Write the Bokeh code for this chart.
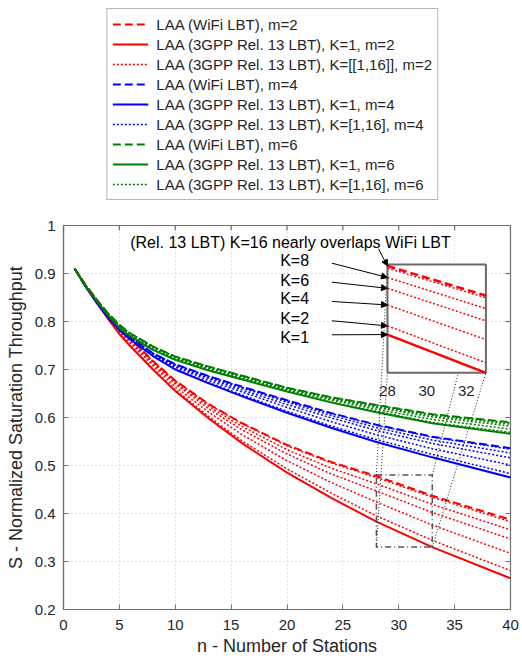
import math
from bokeh.plotting import figure
from bokeh.layouts import column
from bokeh.models import (Range1d, Legend, LegendItem, Arrow, NormalHead,
                          FixedTicker, Label)
from bokeh.embed import file_html
from bokeh.resources import INLINE
from bokeh.core.properties import value

# ---------------- data ----------------
n_stations = [1, 2, 3, 4, 5, 6, 8, 10, 13, 16, 20, 24, 28, 33, 40]

# m = 2 (red)
wifi_m2 = [.910, .876, .845, .816, .789, .764, .718, .677, .628, .588, .543, .507, .478, .437, .387]
k1_m2 = [.910, .872, .838, .805, .774, .748, .700, .655, .598, .546, .485, .432, .383, .330, .265]
k2_m2 = [.910, .873, .839, .806, .776, .750, .702, .658, .602, .551, .493, .442, .395, .344, .281]
k4_m2 = [.910, .874, .841, .810, .780, .755, .708, .664, .611, .564, .510, .464, .424, .376, .317]
k6_m2 = [.910, .875, .843, .812, .784, .759, .712, .670, .618, .574, .524, .482, .447, .402, .347]
k8_m2 = [.910, .875, .844, .814, .786, .761, .715, .673, .623, .581, .533, .494, .462, .419, .366]
k16_m2 = [.910, .876, .845, .816, .789, .764, .717, .676, .627, .587, .541, .505, .475, .434, .383]

# m = 4 (blue)
wifi_m4 = [.910, .873, .840, .812, .788, .767, .734, .711, .686, .664, .636, .609, .585, .560, .536]
k1_m4 = [.910, .872, .838, .808, .782, .762, .728, .700, .671, .644, .610, .578, .549, .517, .475]
k2_m4 = [.910, .872, .838, .809, .783, .763, .729, .701, .673, .647, .613, .582, .554, .523, .483]
k4_m4 = [.910, .872, .839, .810, .785, .764, .731, .705, .677, .653, .621, .591, .564, .535, .501]
k6_m4 = [.910, .873, .839, .811, .786, .765, .732, .707, .681, .657, .627, .599, .573, .546, .516]
k8_m4 = [.910, .873, .840, .811, .787, .766, .733, .709, .683, .661, .632, .604, .579, .553, .526]
k16_m4 = [.910, .873, .840, .812, .788, .767, .734, .711, .686, .663, .635, .608, .584, .559, .534]

# m = 6 (green)
wifi_m6 = [.910, .874, .844, .817, .793, .775, .748, .727, .706, .687, .662, .642, .626, .607, .590]
k1_m6 = [.910, .873, .842, .813, .787, .769, .741, .720, .698, .679, .654, .631, .611, .588, .566]
k2_m6 = [.910, .873, .842, .814, .788, .770, .742, .721, .699, .680, .655, .632, .613, .590, .569]
k4_m6 = [.910, .873, .843, .815, .790, .772, .744, .723, .701, .682, .657, .636, .617, .596, .576]
k6_m6 = [.910, .874, .843, .816, .791, .773, .746, .725, .703, .684, .659, .638, .621, .601, .582]
k8_m6 = [.910, .874, .844, .816, .792, .774, .747, .726, .705, .686, .661, .640, .623, .604, .586]
k16_m6 = [.910, .874, .844, .817, .793, .775, .748, .727, .706, .687, .662, .642, .626, .606, .589]

legend_labels = [
    "LAA (WiFi LBT), m=2",
    "LAA (3GPP Rel. 13 LBT), K=1, m=2",
    "LAA (3GPP Rel. 13 LBT), K=[[1,16]], m=2",
    "LAA (WiFi LBT), m=4",
    "LAA (3GPP Rel. 13 LBT), K=1, m=4",
    "LAA (3GPP Rel. 13 LBT), K=[1,16], m=4",
    "LAA (WiFi LBT), m=6",
    "LAA (3GPP Rel. 13 LBT), K=1, m=6",
    "LAA (3GPP Rel. 13 LBT), K=[1,16], m=6",
]

x_ticks = [0, 5, 10, 15, 20, 25, 30, 35, 40]
y_ticks = [0.2, 0.3, 0.4, 0.5, 0.6, 0.7, 0.8, 0.9, 1.0]
y_tick_labels = ["0.2", "0.3", "0.4", "0.5", "0.6", "0.7", "0.8", "0.9", "1"]
inset_ticks = [28, 30, 32]
inset_tick_labels = ["28", "30", "32"]

k_labels = ["K=8", "K=6", "K=4", "K=2", "K=1"]
note_text = "(Rel. 13 LBT) K=16 nearly overlaps WiFi LBT"

# ---------------- layout constants ----------------
FONT = "Liberation Sans"
MAIN_X = (0, 40)
MAIN_Y = (0.2, 1.0)
ZOOM_X = (28, 33)          # zoomed data window
ZOOM_Y = (0.33, 0.48)
INSET_X = (28.99, 37.80)   # where the inset sits, in main data units
INSET_Y = (0.693, 0.9188)

sx = (ZOOM_X[1] - ZOOM_X[0]) / (INSET_X[1] - INSET_X[0])
sy = (ZOOM_Y[1] - ZOOM_Y[0]) / (INSET_Y[1] - INSET_Y[0])
ix0 = ZOOM_X[0] - (INSET_X[0] - MAIN_X[0]) * sx
ix1 = ix0 + (MAIN_X[1] - MAIN_X[0]) * sx
iy0 = ZOOM_Y[0] - (INSET_Y[0] - MAIN_Y[0]) * sy
iy1 = iy0 + (MAIN_Y[1] - MAIN_Y[0]) * sy


def inset_to_main(x, y):
    return INSET_X[0] + (x - ZOOM_X[0]) / sx, INSET_Y[0] + (y - ZOOM_Y[0]) / sy


AX_COL = "#707070"
TXT_COL = "#262626"
LEG_H = 217
TOTAL_W = 522
TOTAL_H = 660

p = figure(width=TOTAL_W, height=TOTAL_H - LEG_H, x_range=Range1d(*MAIN_X),
           y_range=Range1d(*MAIN_Y), output_backend="svg", toolbar_location=None,
           min_border_left=63, min_border_right=12, min_border_top=8, min_border_bottom=51)
p.extra_x_ranges = {"ix": Range1d(ix0, ix1)}
p.extra_y_ranges = {"iy": Range1d(iy0, iy1)}
p.background_fill_color = "white"
p.border_fill_color = "white"
p.outline_line_color = AX_COL
p.outline_line_width = 1.2

for ax in (p.xaxis[0], p.yaxis[0]):
    ax.axis_line_color = AX_COL
    ax.axis_line_width = 1.2
    ax.major_tick_in = 5
    ax.major_tick_out = 0
    ax.minor_tick_in = 0
    ax.minor_tick_out = 0
    ax.major_tick_line_color = AX_COL
    ax.major_label_text_font = FONT
    ax.major_label_text_font_size = "15px"
    ax.major_label_text_color = TXT_COL
    ax.axis_label_text_font = FONT
    ax.axis_label_text_font_size = "18px"
    ax.axis_label_text_font_style = "normal"
    ax.axis_label_text_color = TXT_COL
p.xaxis.ticker = FixedTicker(ticks=x_ticks)
p.yaxis.ticker = FixedTicker(ticks=y_ticks)
p.yaxis.major_label_overrides = {t: l for t, l in zip(y_ticks, y_tick_labels)}
p.xaxis.axis_label = "n - Number of Stations"
p.yaxis.axis_label = "S - Normalized Saturation Throughput"
p.xaxis.major_label_standoff = 10
p.yaxis.major_label_standoff = 8
p.xaxis.axis_label_standoff = 3
p.yaxis.axis_label_standoff = 6

# inward ticks on the top and right edges (half of each dash is clipped by the frame)
p.scatter(x=x_ticks, y=[MAIN_Y[1]] * len(x_ticks), marker="dash", size=10,
          angle=math.pi / 2, line_color=AX_COL, line_width=1.2)
p.scatter(x=[MAIN_X[1]] * len(y_ticks), y=y_ticks, marker="dash", size=10,
          line_color=AX_COL, line_width=1.2)

p.xgrid.ticker = FixedTicker(ticks=x_ticks)
p.ygrid.ticker = FixedTicker(ticks=y_ticks)
for g in (p.xgrid[0], p.ygrid[0]):
    g.grid_line_color = "#c8c8c8"
    g.grid_line_dash = "1 3"
    g.grid_line_width = 1

groups = [
    ("#ff0000", wifi_m2, k1_m2, [k2_m2, k4_m2, k6_m2, k8_m2, k16_m2]),
    ("#0000ff", wifi_m4, k1_m4, [k2_m4, k4_m4, k6_m4, k8_m4, k16_m4]),
    ("#008000", wifi_m6, k1_m6, [k2_m6, k4_m6, k6_m6, k8_m6, k16_m6]),
]

# legend-only figure above the plot (its data lie outside its ranges; only the legend shows)
lf = figure(width=458, height=LEG_H, x_range=Range1d(-20, -10), y_range=Range1d(-20, -10),
            output_backend="svg", toolbar_location=None, x_axis_type=None, y_axis_type=None,
            min_border=0, outline_line_color=None)
lf.grid.visible = False

items = []
li = 0
for color, wifi, k1, kdots in groups:
    p.line(n_stations, k1, line_color=color, line_width=2)
    for kv in kdots:
        p.line(n_stations, kv, line_color=color, line_width=1.5, line_dash="2 2")
    p.line(n_stations, wifi, line_color=color, line_width=2, line_dash="8 4")
    s_dash = lf.line(n_stations, wifi, line_color=color, line_width=2, line_dash="8 4")
    s_solid = lf.line(n_stations, k1, line_color=color, line_width=2)
    s_dot = lf.line(n_stations, kdots[0], line_color=color, line_width=1.5, line_dash="2 2")
    items.append(LegendItem(label=legend_labels[li], renderers=[s_dash]))
    items.append(LegendItem(label=legend_labels[li + 1], renderers=[s_solid]))
    items.append(LegendItem(label=legend_labels[li + 2], renderers=[s_dot]))
    li += 3

legend = Legend(items=items, location="top_right", orientation="vertical",
                label_text_font=FONT, label_text_font_size="15px", label_text_color=TXT_COL,
                glyph_width=36, glyph_height=20, label_height=20, label_standoff=8,
                spacing=0, padding=5, margin=8, border_line_color=AX_COL,
                border_line_width=1, background_fill_color="white", background_fill_alpha=1)
lf.add_layout(legend, "center")

# zoom rectangle in main axes
p.quad(left=[ZOOM_X[0]], right=[ZOOM_X[1]], bottom=[ZOOM_Y[0]], top=[ZOOM_Y[1]],
       fill_alpha=0, line_color="#555555", line_width=1.5, line_dash="6 3 1 3")

# connectors from zoom rectangle corners to inset corners
cx0 = [ZOOM_X[0], ZOOM_X[0], ZOOM_X[1], ZOOM_X[1]]
cy0 = [ZOOM_Y[1], ZOOM_Y[0], ZOOM_Y[1], ZOOM_Y[0]]
cx1 = [INSET_X[0], INSET_X[0], INSET_X[1], INSET_X[1]]
cy1 = [INSET_Y[1], INSET_Y[0], INSET_Y[1], INSET_Y[0]]
p.segment(x0=cx0, y0=cy0, x1=cx1, y1=cy1, line_color="#222222", line_width=1, line_dash="1 2")

# inset
p.quad(left=[ZOOM_X[0]], right=[ZOOM_X[1]], bottom=[ZOOM_Y[0]], top=[ZOOM_Y[1]],
       x_range_name="ix", y_range_name="iy", fill_color="white", line_color="#6a6a6a",
       line_width=2)
i0 = n_stations.index(ZOOM_X[0])
i1 = n_stations.index(ZOOM_X[1]) + 1
nz = n_stations[i0:i1]
red = "#ff0000"
p.line(nz, k1_m2[i0:i1], line_color=red, line_width=2.5, x_range_name="ix", y_range_name="iy")
for kv in (k2_m2, k4_m2, k6_m2, k8_m2, k16_m2):
    p.line(nz, kv[i0:i1], line_color=red, line_width=1.5, line_dash="2 2",
           x_range_name="ix", y_range_name="iy")
p.line(nz, wifi_m2[i0:i1], line_color=red, line_width=2.5, line_dash="8 4",
       x_range_name="ix", y_range_name="iy")
p.text(x=inset_ticks, y=[ZOOM_Y[0]] * len(inset_ticks), text=inset_tick_labels,
       x_range_name="ix", y_range_name="iy", text_align="center", text_baseline="top",
       y_offset=13, text_font=value(FONT), text_font_size="15px", text_color=TXT_COL)

# annotations
p.add_layout(Label(x=5.97, y=0.965, text=note_text, text_font=FONT, text_font_size="16px",
                   text_color="black", text_baseline="middle"))
k_label_y = [0.927, 0.885, 0.847, 0.806, 0.767]
k_arrow_y = [0.9215, 0.8819, 0.8417, 0.8015, 0.7723]
k_targets = [k8_m2, k6_m2, k4_m2, k2_m2, k1_m2]
for lab, ly, ay, kv in zip(k_labels, k_label_y, k_arrow_y, k_targets):
    p.add_layout(Label(x=19.39, y=ly, text=lab, text_font=FONT, text_font_size="16px",
                       text_color="black", text_baseline="middle"))
    ex, ey = inset_to_main(ZOOM_X[0], kv[i0])
    p.add_layout(Arrow(end=NormalHead(size=6, fill_color="black", line_color="black"),
                       x_start=24.02, y_start=ay, x_end=ex, y_end=ey,
                       line_color="black", line_width=1))
ex, ey = inset_to_main(ZOOM_X[0], wifi_m2[i0])
p.add_layout(Arrow(end=NormalHead(size=6, fill_color="black", line_color="black"),
                   x_start=28.19, y_start=0.9515, x_end=ex, y_end=ey,
                   line_color="black", line_width=1))

layout = column(lf, p, spacing=0)
open("out.html", "w").write(file_html(layout, INLINE))
